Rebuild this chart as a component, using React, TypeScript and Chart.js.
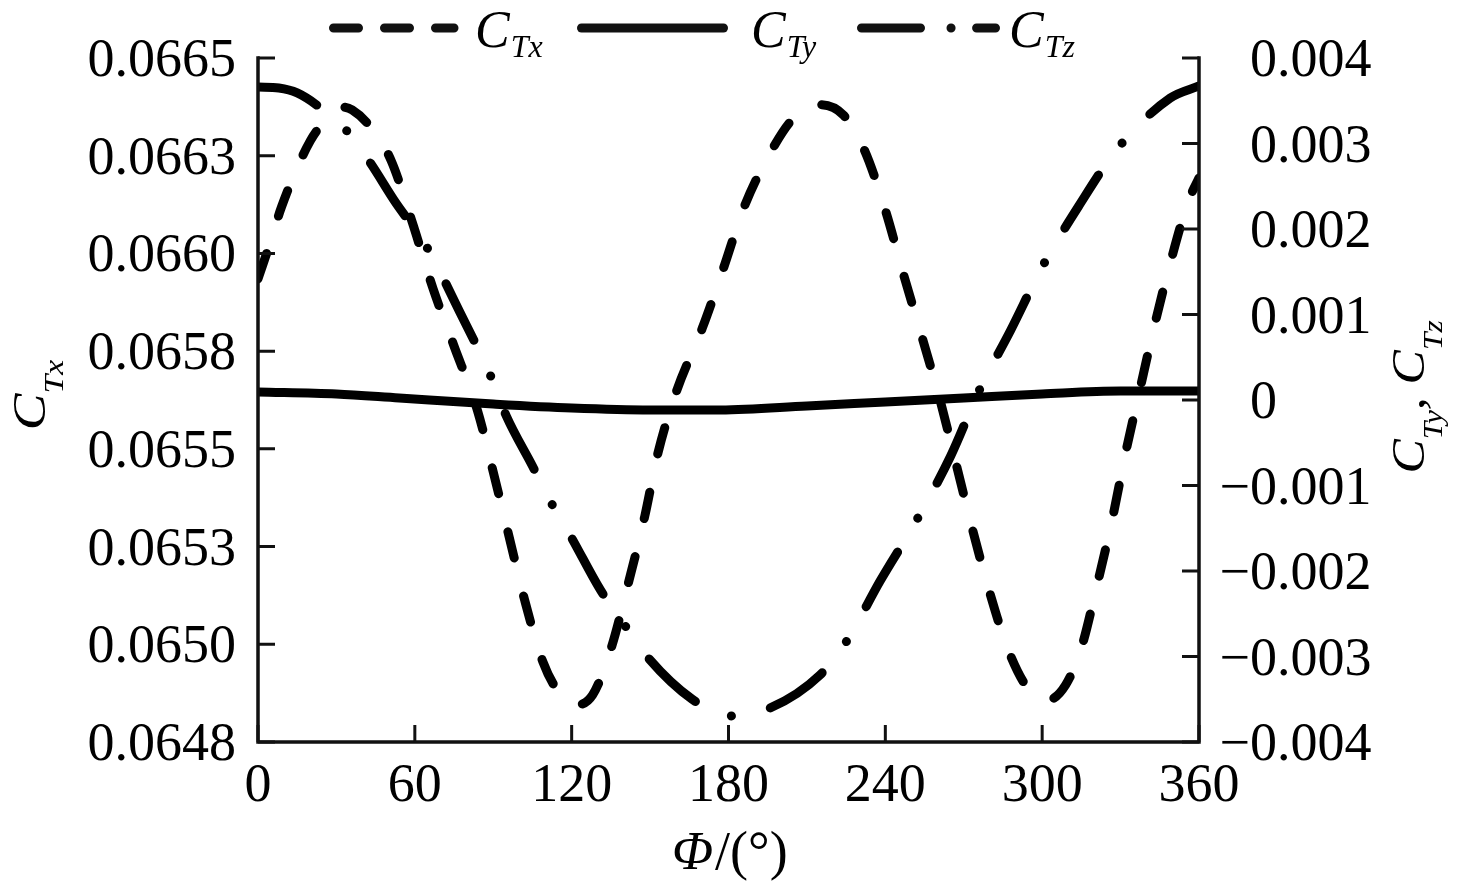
import { useEffect, useRef } from 'react';
import Chart from 'chart.js/auto';

// C_Tx on the left axis
const phiTx = [0, 5, 9, 20, 27, 32, 36, 44, 51, 59, 67, 75, 84, 90, 96, 102, 109, 115, 121, 128, 135, 142, 148, 153, 160, 170, 178, 186, 197, 205, 215, 224, 232, 240, 247, 254, 261, 267, 273, 280, 287, 295, 302, 309, 315, 321, 327, 332, 337, 343, 349, 356, 360];
const cTx = [0.065951, 0.066048, 0.06613, 0.066294, 0.066353, 0.066378, 0.066371, 0.066321, 0.066244, 0.066092, 0.065926, 0.065784, 0.065623, 0.065471, 0.065312, 0.065153, 0.064999, 0.064924, 0.064892, 0.064917, 0.065031, 0.065203, 0.065362, 0.065518, 0.06567, 0.065829, 0.065976, 0.06613, 0.066276, 0.066351, 0.066384, 0.066358, 0.066271, 0.066122, 0.065961, 0.065807, 0.065648, 0.065493, 0.065337, 0.06517, 0.065029, 0.064929, 0.064904, 0.064942, 0.065034, 0.06519, 0.065359, 0.065521, 0.065665, 0.065836, 0.06599, 0.066145, 0.066202];

// C_Ty and C_Tz on the right axis
const phiTy = [0, 30, 54, 90, 120, 150, 177, 210, 240, 270, 300, 330, 360];
const cTy = [0.000094, 0.00007, 0.000023, -0.000047, -0.000094, -0.000117, -0.000117, -0.00007, -0.000023, 0.000023, 0.00007, 0.000105, 0.000105];

const phiTz = [0, 8, 15, 24, 34, 43, 52, 65, 77, 89, 95, 105, 112, 120, 131, 140, 149, 166, 180, 195, 215, 225, 238, 252, 265, 276, 288, 300, 314, 329, 349, 360];
const cTz = [0.003661, 0.003649, 0.003591, 0.003415, 0.003146, 0.002772, 0.002339, 0.001766, 0.001041, 0.000281, -0.000187, -0.000772, -0.001193, -0.001614, -0.002222, -0.00262, -0.003006, -0.003497, -0.003696, -0.003614, -0.003216, -0.00283, -0.002117, -0.001404, -0.000655, 0.000117, 0.000819, 0.001556, 0.002269, 0.002947, 0.003532, 0.003673];

// axes
const xTicks = [0, 60, 120, 180, 240, 300, 360];
const leftMin = 0.0648;
const leftMax = 0.0665;
const leftTickLabels = ['0.0648', '0.0650', '0.0653', '0.0655', '0.0658', '0.0660', '0.0663', '0.0665'];
const rightTicks = [-0.004, -0.003, -0.002, -0.001, 0, 0.001, 0.002, 0.003, 0.004];
const rightTickLabels = ['\u22120.004', '\u22120.003', '\u22120.002', '\u22120.001', '0', '0.001', '0.002', '0.003', '0.004'];

const SERIF = '"Liberation Serif", "Times New Roman", serif';
const TICK = 17;

type Part = { text: string; font: string; dy: number };

// draws text runs rotated 90deg counter-clockwise, centred on cy, baseline at bx
function drawRotated(ctx: CanvasRenderingContext2D, bx: number, cy: number, parts: Part[], stretch: number) {
  let total = 0;
  const widths = parts.map(p => {
    ctx.font = p.font;
    const w = ctx.measureText(p.text).width;
    total += w;
    return w;
  });
  ctx.save();
  ctx.translate(bx, cy);
  ctx.rotate(-Math.PI / 2);
  ctx.scale(stretch, 1);
  let x = -total / 2;
  parts.forEach((p, i) => {
    ctx.font = p.font;
    ctx.fillText(p.text, x, p.dy);
    x += widths[i];
  });
  ctx.restore();
}

function drawSubscripted(ctx: CanvasRenderingContext2D, x: number, y: number, main: string, sub: string) {
  ctx.font = `italic 52px ${SERIF}`;
  ctx.fillText(main, x, y);
  const w = ctx.measureText(main).width;
  ctx.font = `italic 32px ${SERIF}`;
  ctx.fillText(sub, x + w + 1, y + 10);
}

const paperAxes = {
  id: 'paperAxes',
  afterDraw(chart: any) {
    const { ctx, chartArea } = chart;
    const { left, right, top, bottom } = chartArea;
    const xs = chart.scales.x;
    const yL = chart.scales.yL;
    const yR = chart.scales.yR;
    const leftTicks = leftTickLabels.map((_, i) => leftMin + (i * (leftMax - leftMin)) / (leftTickLabels.length - 1));

    ctx.save();
    ctx.strokeStyle = '#111';
    ctx.fillStyle = '#000';

    // frame (no top line)
    ctx.lineWidth = 3.5;
    ctx.lineCap = 'square';
    ctx.lineJoin = 'miter';
    ctx.beginPath();
    ctx.moveTo(left, top);
    ctx.lineTo(left, bottom);
    ctx.lineTo(right, bottom);
    ctx.lineTo(right, top);
    ctx.stroke();

    // inward ticks
    ctx.lineWidth = 3;
    ctx.lineCap = 'butt';
    ctx.beginPath();
    xTicks.forEach(v => {
      const px = xs.getPixelForValue(v);
      ctx.moveTo(px, bottom);
      ctx.lineTo(px, bottom - TICK);
    });
    leftTicks.forEach(v => {
      const py = yL.getPixelForValue(v);
      ctx.moveTo(left, py);
      ctx.lineTo(left + TICK, py);
    });
    rightTicks.forEach(v => {
      const py = yR.getPixelForValue(v);
      ctx.moveTo(right, py);
      ctx.lineTo(right - TICK, py);
    });
    ctx.stroke();

    // tick labels
    ctx.font = `54px ${SERIF}`;
    ctx.textBaseline = 'alphabetic';
    ctx.textAlign = 'center';
    xTicks.forEach(v => {
      ctx.fillText(String(v), xs.getPixelForValue(v), 801);
    });
    ctx.textAlign = 'right';
    leftTicks.forEach((v, i) => {
      ctx.fillText(leftTickLabels[i], left - 22, yL.getPixelForValue(v) + 18);
    });
    ctx.textAlign = 'left';
    const minusW = ctx.measureText('\u2212').width;
    rightTicks.forEach((v, i) => {
      const label = rightTickLabels[i];
      const x0 = label.startsWith('\u2212') ? right + 51 - minusW : right + 51;
      ctx.fillText(label, x0, yR.getPixelForValue(v) + 18);
    });

    // axis titles
    ctx.font = `italic 54px ${SERIF}`;
    ctx.fillText('\u03A6', 672, 869);
    const phiW = ctx.measureText('\u03A6').width;
    ctx.font = `54px ${SERIF}`;
    ctx.fillText('/(\u00B0)', 672 + phiW + 2, 869);

    const big = `italic 46px ${SERIF}`;
    const small = `italic 28px ${SERIF}`;
    drawRotated(ctx, 45, 395, [
      { text: 'C', font: big, dy: 0 },
      { text: 'Tx', font: small, dy: 18 },
    ], 1.2);
    drawRotated(ctx, 1424, 397, [
      { text: 'C', font: big, dy: 0 },
      { text: 'Ty', font: small, dy: 18 },
      { text: ', ', font: big, dy: 0 },
      { text: 'C', font: big, dy: 0 },
      { text: 'Tz', font: small, dy: 18 },
    ], 1.12);

    // legend
    const ly = 28;
    ctx.lineWidth = 9;
    ctx.lineCap = 'round';
    ctx.setLineDash([25, 26]);
    ctx.beginPath();
    ctx.moveTo(333.5, ly);
    ctx.lineTo(454, ly);
    ctx.stroke();
    ctx.setLineDash([]);
    ctx.beginPath();
    ctx.moveTo(581.5, ly);
    ctx.lineTo(723.5, ly);
    ctx.stroke();
    ctx.setLineDash([59, 30.5, 0.1, 25.5]);
    ctx.beginPath();
    ctx.moveTo(861.5, ly);
    ctx.lineTo(995.5, ly);
    ctx.stroke();
    ctx.setLineDash([]);

    drawSubscripted(ctx, 475, 47, 'C', 'Tx');
    drawSubscripted(ctx, 751, 47, 'C', 'Ty');
    drawSubscripted(ctx, 1009, 47, 'C', 'Tz');

    ctx.restore();
  },
};

const toPoints = (xs: number[], ys: number[]) => xs.map((x, i) => ({ x, y: ys[i] }));

export default function App() {
  const canvasRef = useRef<HTMLCanvasElement>(null);
  const chartRef = useRef<Chart | null>(null);

  useEffect(() => {
    if (!canvasRef.current) return;
    if (chartRef.current) chartRef.current.destroy();

    const lineStyle = {
      borderColor: '#000',
      borderWidth: 9,
      pointRadius: 0,
      fill: false,
      borderCapStyle: 'round' as const,
      borderJoinStyle: 'round' as const,
      cubicInterpolationMode: 'monotone' as const,
    };

    chartRef.current = new Chart(canvasRef.current, {
      type: 'line',
      data: {
        datasets: [
          { ...lineStyle, label: 'C_Tx', data: toPoints(phiTx, cTx), yAxisID: 'yL', borderDash: [27, 39] },
          { ...lineStyle, label: 'C_Ty', data: toPoints(phiTy, cTy), yAxisID: 'yR' },
          { ...lineStyle, label: 'C_Tz', data: toPoints(phiTz, cTz), yAxisID: 'yR', borderDash: [63, 39.5, 0.1, 40] },
        ],
      },
      options: {
        responsive: false,
        maintainAspectRatio: false,
        animation: false,
        layout: { padding: { left: 258, right: 277, top: 58, bottom: 144 } },
        plugins: { legend: { display: false }, tooltip: { enabled: false } },
        scales: {
          x: { type: 'linear', min: 0, max: 360, display: false },
          yL: { type: 'linear', position: 'left', min: leftMin, max: leftMax, display: false },
          yR: { type: 'linear', position: 'right', min: -0.004, max: 0.004, display: false },
        },
      },
      plugins: [paperAxes],
    });

    return () => {
      if (chartRef.current) {
        chartRef.current.destroy();
        chartRef.current = null;
      }
    };
  }, []);

  return (
    <div style={{ position: 'fixed', left: 0, top: 0, width: 1476, height: 886, background: '#fff' }}>
      <canvas ref={canvasRef} width={1476} height={886} />
    </div>
  );
}
